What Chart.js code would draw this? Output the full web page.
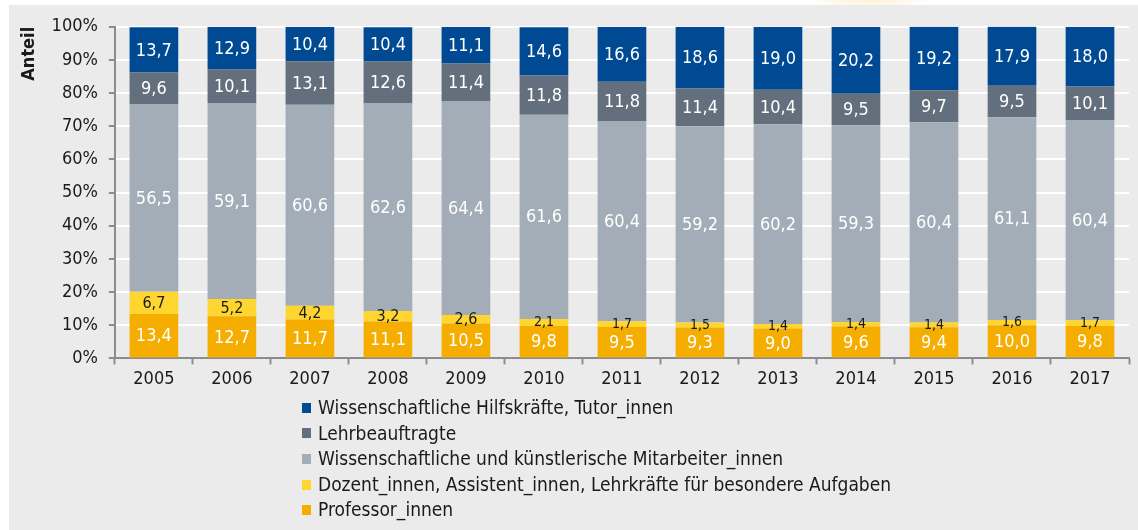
<!DOCTYPE html>
<html lang="de">
<head>
<meta charset="UTF-8">
<title>Personal an Hochschulen nach Personalgruppen</title>
<script src="https://cdn.jsdelivr.net/npm/chart.js"></script>
<style>
  html, body { margin: 0; padding: 0; background: #fff; }
  body { width: 1138px; height: 530px; position: relative; overflow: hidden;
         font-family: "DejaVu Sans Condensed", "Open Sans", sans-serif; }
  .panel { position: absolute; left: 9px; top: 5px; right: 0; bottom: 0; background: #ebebeb; }
  .glow { position: absolute; left: 800px; top: -30px; width: 140px; height: 40px;
          background: radial-gradient(ellipse at center, rgba(255,200,90,0.5), rgba(255,255,255,0) 70%); }
  #wrap { position: absolute; left: 9px; top: 5px; width: 1129px; height: 397px; }
  .legend { position: absolute; left: 302px; top: 395px; list-style: none; margin: 0; padding: 0;
            font-size: 19px; color: #1a1a1a; }
  .legend li { height: 25.6px; line-height: 25.6px; display: flex; align-items: center; }
  .legend span.box { display: inline-block; width: 9px; height: 10px; margin-right: 7px; }
</style>
</head>
<body>
<div class="glow"></div>
<div class="panel"></div>
<div id="wrap"><canvas id="chart"></canvas></div>
<ul class="legend" id="legend"></ul>

<script>
  // Kategorien (Jahre)
  const years = ['2005', '2006', '2007', '2008', '2009', '2010', '2011', '2012', '2013', '2014', '2015', '2016', '2017'];

  // Anteile in Prozent
  const professoren = [13.4, 12.7, 11.7, 11.1, 10.5, 9.8, 9.5, 9.3, 9.0, 9.6, 9.4, 10.0, 9.8];
  const dozenten = [6.7, 5.2, 4.2, 3.2, 2.6, 2.1, 1.7, 1.5, 1.4, 1.4, 1.4, 1.6, 1.7];
  const mitarbeiter = [56.5, 59.1, 60.6, 62.6, 64.4, 61.6, 60.4, 59.2, 60.2, 59.3, 60.4, 61.1, 60.4];
  const lehrbeauftragte = [9.6, 10.1, 13.1, 12.6, 11.4, 11.8, 11.8, 11.4, 10.4, 9.5, 9.7, 9.5, 10.1];
  const hilfskraefte = [13.7, 12.9, 10.4, 10.4, 11.1, 14.6, 16.6, 18.6, 19.0, 20.2, 19.2, 17.9, 18.0];

  const yTicks = [0, 10, 20, 30, 40, 50, 60, 70, 80, 90, 100];

  const FONT = '"DejaVu Sans Condensed", "Open Sans", sans-serif';

  // Reihenfolge von unten nach oben
  const series = [
    { label: 'Professor_innen', data: professoren, color: '#f5ad00', text: '#ffffff' },
    { label: 'Dozent_innen, Assistent_innen, Lehrkräfte für besondere Aufgaben', data: dozenten, color: '#ffd530', text: '#1a1a1a' },
    { label: 'Wissenschaftliche und künstlerische Mitarbeiter_innen', data: mitarbeiter, color: '#a3adb7', text: '#ffffff' },
    { label: 'Lehrbeauftragte', data: lehrbeauftragte, color: '#636f7c', text: '#ffffff' },
    { label: 'Wissenschaftliche Hilfskräfte, Tutor_innen', data: hilfskraefte, color: '#004a93', text: '#ffffff' }
  ];

  // Werte in die Balken schreiben
  const valueLabels = {
    id: 'valueLabels',
    afterDatasetsDraw(chart) {
      const ctx = chart.ctx;
      ctx.save();
      ctx.textAlign = 'center';
      ctx.textBaseline = 'middle';
      chart.data.datasets.forEach((ds, i) => {
        const meta = chart.getDatasetMeta(i);
        meta.data.forEach((bar, j) => {
          const v = ds.data[j];
          const small = v < 2.5;
          ctx.font = (small ? '14px ' : (i === 1 ? '16px ' : '18px ')) + FONT;
          ctx.fillStyle = series[i].text;
          ctx.fillText(v.toFixed(1).replace('.', ','), bar.x, (bar.y + bar.base) / 2 + (small ? 0 : 1));
        });
      });
      ctx.restore();
    }
  };

  new Chart(document.getElementById('chart'), {
    type: 'bar',
    data: {
      labels: years,
      datasets: series.map(s => ({
        label: s.label,
        data: s.data,
        backgroundColor: s.color,
        borderWidth: 0,
        barPercentage: 0.8,
        categoryPercentage: 0.78
      }))
    },
    options: {
      responsive: true,
      maintainAspectRatio: false,
      animation: false,
      layout: { padding: { top: 21, right: 9, bottom: 8, left: 10 } },
      plugins: {
        legend: { display: false },
        tooltip: { enabled: false }
      },
      scales: {
        x: {
          stacked: true,
          grid: { display: true, offset: true, drawOnChartArea: false, tickLength: 6, tickColor: '#8c8c8c', tickWidth: 2 },
          border: { color: '#8c8c8c', width: 2 },
          ticks: { color: '#1a1a1a', font: { family: FONT, size: 18 }, padding: 4 }
        },
        y: {
          stacked: true,
          min: 0,
          max: 100,
          afterBuildTicks: axis => { axis.ticks = yTicks.map(v => ({ value: v })); },
          grid: { color: '#ffffff', lineWidth: 2, tickLength: 6, tickColor: '#8c8c8c', tickWidth: 2 },
          border: { color: '#8c8c8c', width: 2 },
          ticks: { color: '#1a1a1a', font: { family: FONT, size: 18 }, padding: 11, callback: v => v + '%' },
          title: { display: true, text: 'Anteil', align: 'end', color: '#1a1a1a',
                   font: { family: FONT, size: 18, weight: 'bold' }, padding: 0 }
        }
      }
    },
    plugins: [valueLabels]
  });

  // Legende (oben: Hilfskräfte, unten: Professor_innen)
  const legend = document.getElementById('legend');
  series.slice().reverse().forEach(s => {
    const li = document.createElement('li');
    li.innerHTML = '<span class="box" style="background:' + s.color + '"></span>' + s.label;
    legend.appendChild(li);
  });
</script>
</body>
</html>
